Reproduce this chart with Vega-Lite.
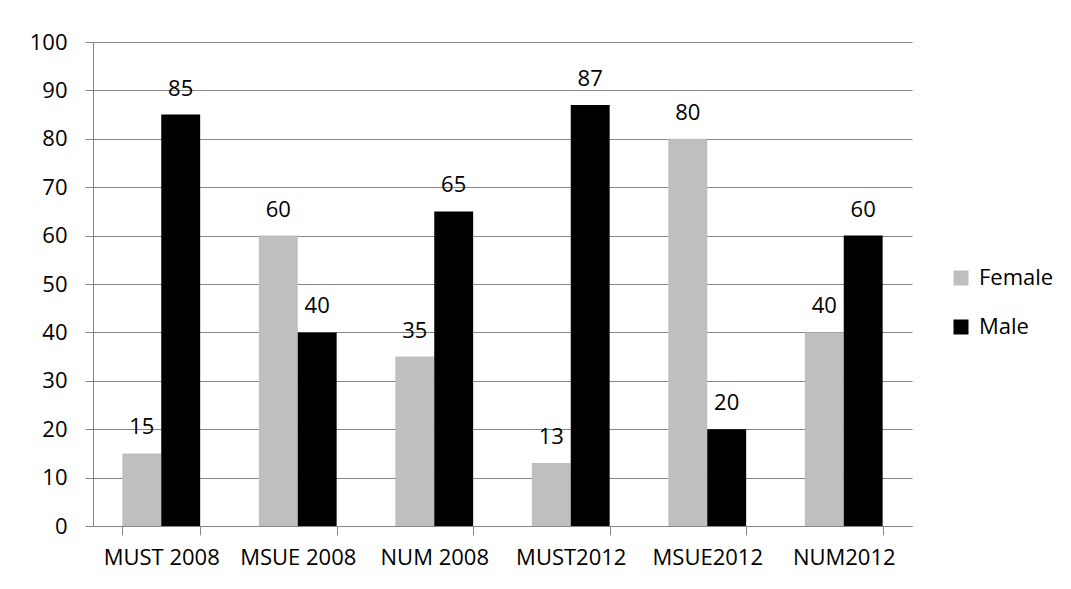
{
  "$schema": "https://vega.github.io/schema/vega-lite/v6.json",
  "autosize": {"type": "none"},
  "padding": {"left": 93, "top": 42, "right": 159, "bottom": 63},
  "width": 819,
  "height": 484,
  "background": "white",
  "data": {
    "values": [
      {"school": "MUST 2008", "gender": "Female", "value": 15},
      {"school": "MUST 2008", "gender": "Male", "value": 85},
      {"school": "MSUE 2008", "gender": "Female", "value": 60},
      {"school": "MSUE 2008", "gender": "Male", "value": 40},
      {"school": "NUM 2008", "gender": "Female", "value": 35},
      {"school": "NUM 2008", "gender": "Male", "value": 65},
      {"school": "MUST2012", "gender": "Female", "value": 13},
      {"school": "MUST2012", "gender": "Male", "value": 87},
      {"school": "MSUE2012", "gender": "Female", "value": 80},
      {"school": "MSUE2012", "gender": "Male", "value": 20},
      {"school": "NUM2012", "gender": "Female", "value": 40},
      {"school": "NUM2012", "gender": "Male", "value": 60}
    ]
  },
  "encoding": {
    "x": {
      "field": "school", "type": "nominal", "sort": null,
      "scale": {"paddingInner": 0.43, "paddingOuter": 0.215},
      "axis": {
        "title": null, "labelAngle": 0, "tickBand": "extent", "grid": false,
        "domainColor": "#868686", "tickColor": "#868686", "tickSize": 9,
        "labelFont": "Open Sans", "labelFontSize": 22, "labelColor": "#000000",
        "labelPadding": 12, "labelOverlap": false
      }
    },
    "xOffset": {"field": "gender", "type": "nominal", "sort": ["Female", "Male"], "scale": {"paddingInner": 0, "paddingOuter": 0}},
    "y": {
      "field": "value", "type": "quantitative",
      "scale": {"domain": [0, 100], "nice": false},
      "axis": {
        "title": null, "values": [0,10,20,30,40,50,60,70,80,90,100],
        "grid": true, "gridColor": "#868686", "gridWidth": 1,
        "domainColor": "#868686", "tickColor": "#868686", "tickSize": 8,
        "labelFont": "Open Sans", "labelFontSize": 22, "labelColor": "#000000",
        "labelPadding": 18, "labelOverlap": false
      }
    }
  },
  "layer": [
    {
      "mark": {"type": "bar"},
      "encoding": {
        "color": {
          "field": "gender", "type": "nominal",
          "scale": {"domain": ["Female", "Male"], "range": ["#BFBFBF", "#000000"]},
          "legend": {
            "title": null, "orient": "none", "legendX": 857, "legendY": 225,
            "symbolType": "square", "symbolSize": 225, "symbolStrokeWidth": 0,
            "labelFont": "Open Sans", "labelFontSize": 22, "labelColor": "#000000",
            "rowPadding": 27, "labelOffset": 7
          }
        }
      }
    },
    {
      "mark": {"type": "text", "baseline": "bottom", "dy": -14, "font": "Open Sans", "fontSize": 22, "color": "#000000"},
      "encoding": {"text": {"field": "value", "type": "quantitative"}}
    }
  ],
  "config": {"view": {"stroke": null}}
}
